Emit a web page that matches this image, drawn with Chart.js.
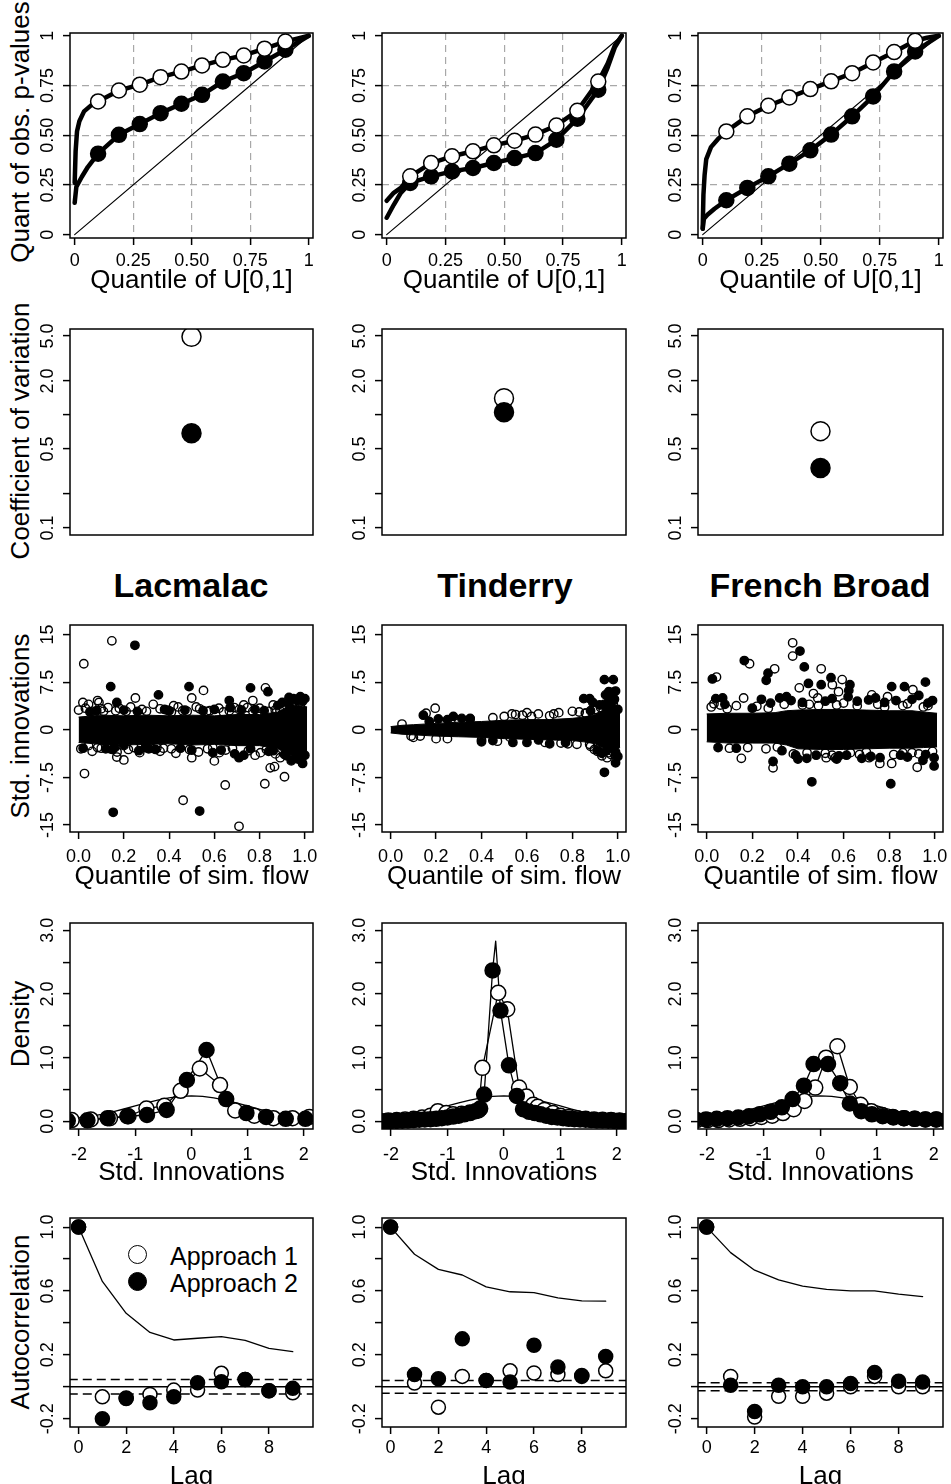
<!DOCTYPE html>
<html>
<head>
<meta charset="utf-8">
<script src="https://cdn.jsdelivr.net/npm/chart.js@4.4.1/dist/chart.umd.min.js"></script>
<style>
  html, body { margin: 0; padding: 0; background: #fff; overflow: hidden; }
  body { width: 951px; height: 1484px; position: relative; font-family: "Liberation Sans", Arial, Helvetica, sans-serif; color: #000; }
  canvas { position: absolute; }
  .site { position: absolute; top: 568px; font-size: 34px; font-weight: bold; line-height: 34px; transform: translateX(-50%); white-space: nowrap; }
  .ytitle { position: absolute; left: 19.5px; font-size: 26px; line-height: 26px; white-space: nowrap; transform: translate(-50%, -50%) rotate(-90deg); }
  .key { position: absolute; left: 170px; font-size: 25px; line-height: 25px; white-space: nowrap; }
  .dot { position: absolute; left: 128px; width: 17px; height: 17px; border: 1.5px solid #000; border-radius: 50%; }
</style>
</head>
<body>
<div class="ytitle" style="top:132px">Quant of obs. p-values</div>
<div class="ytitle" style="top:431px">Coefficient of variation</div>
<div class="ytitle" style="top:726px">Std. innovations</div>
<div class="ytitle" style="top:1024px">Density</div>
<div class="ytitle" style="top:1322px">Autocorrelation</div>
<div class="site" style="left:191px">Lacmalac</div>
<div class="site" style="left:505px">Tinderry</div>
<div class="site" style="left:820px">French Broad</div>
<div class="dot" style="top:1245px;background:#fff"></div>
<div class="key" style="top:1244px">Approach 1</div>
<div class="dot" style="top:1272px;background:#000"></div>
<div class="key" style="top:1271px">Approach 2</div>
<script>
const FONT = '"Liberation Sans", Arial, Helvetica, sans-serif';

// ---- row 1: quantiles of observed p-values vs U[0,1]
const qqX = [0.1, 0.189, 0.278, 0.367, 0.456, 0.544, 0.633, 0.722, 0.811, 0.9];
const qqTicks = [0, 0.25, 0.5, 0.75, 1];
const qqLabels = ['0', '0.25', '0.50', '0.75', '1'];
const qqGrid = [0.25, 0.5, 0.75];
const qqDiag = [[0, 0], [1, 1]];

const qqLacA1 = [0.67, 0.725, 0.754, 0.792, 0.82, 0.851, 0.879, 0.901, 0.935, 0.971];
const qqLacA2 = [0.407, 0.502, 0.556, 0.611, 0.658, 0.703, 0.77, 0.812, 0.871, 0.93];
const qqLacA1Head = [[0, 0.26], [0.004, 0.42], [0.01, 0.52], [0.02, 0.57], [0.04, 0.62], [0.07, 0.65]];
const qqLacA2Head = [[0, 0.16], [0.007, 0.24], [0.03, 0.29], [0.056, 0.34]];
const qqLacA1Tail = [[0.95, 0.985], [1, 1]];
const qqLacA2Tail = [[0.95, 0.965], [1, 1]];

const qqTinA1 = [0.293, 0.36, 0.394, 0.419, 0.449, 0.472, 0.503, 0.549, 0.623, 0.77];
const qqTinA2 = [0.26, 0.293, 0.318, 0.335, 0.36, 0.385, 0.41, 0.477, 0.583, 0.729];
const qqTinA1Head = [[0, 0.17], [0.03, 0.21], [0.06, 0.235]];
const qqTinA2Head = [[0, 0.085], [0.03, 0.15], [0.06, 0.21]];
const qqTinA1Tail = [[0.94, 0.86], [0.97, 0.95], [1, 1]];
const qqTinA2Tail = [[0.94, 0.84], [0.97, 0.94], [1, 1]];

const qqFreA1 = [0.519, 0.595, 0.648, 0.69, 0.732, 0.771, 0.812, 0.866, 0.918, 0.975];
const qqFreA2 = [0.173, 0.235, 0.293, 0.357, 0.424, 0.503, 0.595, 0.695, 0.821, 0.921];
const qqFreA1Head = [[0, 0.03], [0.003, 0.2], [0.008, 0.3], [0.015, 0.38], [0.035, 0.44], [0.064, 0.48]];
const qqFreA2Head = [[0, 0.03], [0.005, 0.08], [0.02, 0.1], [0.05, 0.13]];
const qqFreA1Tail = [[0.95, 0.99], [1, 1]];
const qqFreA2Tail = [[0.95, 0.96], [1, 1]];

// ---- row 2: coefficient of variation (Lacmalac, Tinderry, French Broad)
const cvX = 1;
const cvA1 = [4.93, 1.41, 0.72];
const cvA2 = [0.69, 1.06, 0.34];
const cvTicks = [0.1, 0.2, 0.5, 1, 2, 5];
const cvLabels = ['0.1', '', '0.5', '', '2.0', '5.0'];

// ---- row 3: std. innovations vs quantile of simulated flow
const scTicksX = [0, 0.2, 0.4, 0.6, 0.8, 1];
const scLabelsX = ['0.0', '0.2', '0.4', '0.6', '0.8', '1.0'];
const scTicksY = [-15, -7.5, 0, 7.5, 15];
const scLabelsY = ['-15', '-7.5', '0', '7.5', '15'];

const scLacBandX = [0, 0.1, 0.2, 0.3, 0.4, 0.5, 0.6, 0.7, 0.8, 0.88, 0.92, 0.96, 1.01];
const scLacBandUp = [2.0, 2.3, 2.2, 2.3, 2.2, 2.3, 2.2, 2.4, 2.4, 2.8, 3.6, 3.9, 3.6];
const scLacBandLo = [-2.0, -2.3, -2.4, -2.3, -2.2, -2.4, -2.3, -2.5, -2.5, -3.0, -3.7, -4.0, -3.7];
const scLacA1 = [[0.023, 10.4], [0.147, 14.0], [0.026, -6.9], [0.251, 5.0], [0.5, 5.0], [0.552, 6.2], [0.462, -11.1],
  [0.5, -4.4], [0.648, -8.7], [0.709, -15.2], [0.826, 6.6], [0.77, 4.6], [0.823, -8.5], [0.847, -6.0], [0.866, -5.8],
  [0.91, -7.4], [0.169, -4.3], [0.2, -4.75], [0.019, 4.3], [0.084, 4.6], [0.33, 4.0], [0.42, 3.8], [0.6, -4.9],
  [0.375, -2.9], [0.0, 3.1], [0.044, 4.0], [0.1, 3.3], [0.13, 3.5], [0.164, 3.0], [0.044, -2.5], [0.084, -2.8],
  [0.14, -3.0], [0.244, -2.8], [0.346, -2.8], [0.46, 3.0], [0.535, 3.3], [0.567, 2.9], [0.593, -2.8], [0.622, -3.6],
  [0.666, 3.0], [0.688, 3.5], [0.746, 3.5], [0.804, -3.6], [0.869, 3.1], [0.891, -4.4], [0.28, 3.2], [0.39, 3.1],
  [0.95, -3.3], [0.98, 3.9], [0.03, 3.4], [0.06, 2.9], [0.09, 4.3], [0.11, 2.9], [0.18, 3.4], [0.21, 2.9],
  [0.23, 3.6], [0.3, 2.9], [0.36, 3.3], [0.41, 2.8], [0.44, 3.6], [0.48, 2.9], [0.52, 3.6], [0.58, 3.0],
  [0.62, 3.4], [0.64, 2.8], [0.71, 3.2], [0.73, 3.9], [0.77, 2.9], [0.8, 3.4], [0.84, 2.9], [0.86, 3.9],
  [0.89, 3.0], [0.01, -3.0], [0.06, -3.4], [0.1, -2.9], [0.17, -3.5], [0.22, -3.1], [0.27, -3.6], [0.32, -2.9],
  [0.36, -3.4], [0.41, -3.0], [0.43, -3.7], [0.49, -3.1], [0.53, -3.5], [0.57, -3.0], [0.65, -3.2], [0.68, -2.9],
  [0.75, -3.3], [0.78, -4.0], [0.83, -3.1], [0.87, -3.8]];
const scLacA2 = [[0.249, 13.3], [0.142, 6.8], [0.169, 4.3], [0.353, 5.5], [0.488, 6.8], [0.76, 6.6], [0.837, 6.0],
  [0.153, -13.0], [0.535, -12.8], [0.666, 4.6], [0.709, -4.4], [0.266, -3.3], [0.295, -2.8], [0.593, -3.6],
  [0.15, -3.1], [0.2, -2.5], [0.05, 2.8], [0.12, -3.0], [0.31, -3.0], [0.4, 3.0], [0.45, -2.9], [0.55, 3.0],
  [0.72, 3.1], [0.78, 3.2], [0.86, -3.3], [0.9, 4.3], [0.92, -4.1], [0.93, 5.1], [0.95, 4.9], [0.965, 4.6],
  [0.97, -4.6], [0.985, -4.8], [0.99, 4.5], [1.0, -4.0], [0.69, -3.8], [0.73, -4.0], [0.88, 3.8], [0.02, -2.9],
  [0.08, 3.0], [0.16, -2.8], [0.2, 3.1], [0.26, 2.9], [0.34, -3.1], [0.38, 3.2], [0.47, 3.1], [0.5, -3.2],
  [0.6, 3.2], [0.63, -3.2], [0.67, 3.5], [0.76, -3.0], [0.82, 3.0], [0.84, -3.4], [0.91, -3.9], [0.94, -4.9],
  [0.96, -4.2], [0.98, 5.2], [1.0, 4.9], [0.93, 4.0], [0.99, -5.3]];

const scTinBandX = [0, 0.05, 0.1, 0.2, 0.3, 0.4, 0.5, 0.6, 0.7, 0.8, 0.85, 0.9, 0.93, 0.96, 0.99, 1.01];
const scTinBandUp = [0.5, 0.7, 0.8, 1.0, 1.2, 1.3, 1.5, 1.6, 1.6, 1.8, 2.0, 2.4, 3.0, 3.7, 3.7, 3.2];
const scTinBandLo = [-0.5, -0.7, -0.8, -1.0, -1.1, -1.2, -1.4, -1.5, -1.6, -1.7, -1.9, -2.2, -2.8, -3.1, -3.1, -2.8];
const scTinA1 = [[0.196, 3.4], [0.156, 2.6], [0.534, 2.5], [0.6, 2.7], [0.718, 2.5], [0.8, 2.9], [0.857, 2.6],
  [0.924, 3.5], [0.93, -4.1], [0.897, -3.1], [0.876, -2.3], [0.526, -1.2], [0.13, -1.0], [0.98, 4.6], [0.953, -4.4],
  [0.1, -1.2], [0.2, -1.4], [0.45, 1.9], [0.5, 2.1], [0.58, 2.3], [0.62, 2.1], [0.7, 2.2], [0.75, -2.1],
  [0.82, -2.3], [0.86, 2.6], [0.9, 3.2], [0.96, -3.6], [0.98, 4.2], [0.3, 1.5], [0.4, -1.6], [0.05, 0.9],
  [0.09, -1.0], [0.25, -1.4], [0.35, 1.7], [0.47, -1.8], [0.55, 2.4], [0.65, 2.5], [0.68, -2.0], [0.74, 2.7],
  [0.78, -2.2], [0.83, 2.8], [0.88, -2.6], [0.91, -3.4], [0.94, 3.8], [0.97, -3.9]];
const scTinA2 = [[0.144, 2.3], [0.21, 1.7], [0.276, 2.1], [0.313, 1.8], [0.538, -2.0], [0.651, -1.6], [0.85, 4.9],
  [0.876, 4.9], [0.941, 7.9], [0.98, 7.9], [0.946, 5.5], [0.982, 5.9], [0.99, -3.9], [0.99, -5.2], [0.941, -6.7],
  [0.953, 3.3], [0.968, -2.3], [0.17, 1.3], [0.25, 1.6], [0.35, 1.8], [0.4, -1.9], [0.45, -1.7], [0.6, -2.0],
  [0.7, -2.2], [0.77, -2.0], [0.88, 3.0], [0.91, -3.2], [0.94, 4.0], [0.97, 3.8], [0.99, -3.5], [1.0, 3.2],
  [0.97, 5.9], [0.96, 4.5], [0.92, 3.9], [0.89, 4.3], [0.93, -3.7], [0.95, -3.3], [0.985, 4.8], [1.0, -4.2],
  [0.96, 6.0], [0.99, 6.1]];

const scFreBandX = [0, 0.1, 0.2, 0.3, 0.35, 0.4, 0.5, 0.6, 0.7, 0.8, 0.9, 0.95, 1.01];
const scFreBandUp = [2.5, 2.6, 2.6, 2.7, 3.0, 3.1, 3.2, 3.2, 3.1, 3.0, 3.0, 2.8, 2.6];
const scFreBandLo = [-1.9, -2.1, -2.1, -2.1, -2.4, -3.0, -3.1, -3.1, -3.0, -2.9, -2.9, -2.8, -2.7];
const scFreA1 = [[0.043, 8.3], [0.188, 10.4], [0.298, 9.6], [0.377, 13.7], [0.377, 11.6], [0.502, 9.6], [0.406, 6.6],
  [0.468, 5.7], [0.487, 5.0], [0.551, 7.1], [0.594, 7.9], [0.578, 6.0], [0.162, 5.0], [0.032, 4.1], [0.152, -4.5],
  [0.291, -6.0], [0.524, -4.4], [0.564, -4.4], [0.712, -4.4], [0.759, -5.3], [0.811, -5.3], [0.86, -3.6],
  [0.923, -5.9], [0.793, 5.2], [0.904, 6.3], [0.724, 5.5], [0.02, 3.6], [0.06, 3.9], [0.1, -2.9], [0.22, 3.7],
  [0.26, -3.0], [0.34, 4.0], [0.38, -3.8], [0.45, 4.0], [0.55, -4.0], [0.6, 4.2], [0.67, -3.9], [0.75, 4.0],
  [0.82, -3.9], [0.88, 4.1], [0.93, -3.8], [0.97, 3.8], [0.09, 3.3], [0.13, 3.8], [0.18, -2.8], [0.27, 3.4],
  [0.31, -2.7], [0.42, 3.9], [0.44, -3.6], [0.49, 3.8], [0.52, -3.7], [0.57, 3.9], [0.63, -3.6], [0.66, 3.8],
  [0.7, -3.5], [0.78, 3.6], [0.86, 3.8], [0.9, -3.6], [0.95, 3.6], [0.99, -3.4]];
const scFreA2 = [[0.025, 8.0], [0.165, 10.9], [0.269, 8.9], [0.261, 7.8], [0.409, 12.4], [0.428, 9.9], [0.446, 7.3],
  [0.502, 7.1], [0.545, 8.2], [0.628, 7.1], [0.623, 6.2], [0.811, 6.8], [0.867, 6.8], [0.959, 7.5], [0.461, -8.2],
  [0.807, -8.5], [0.291, -5.0], [0.39, -4.0], [0.439, -4.5], [0.613, -4.0], [0.948, -4.8], [0.997, -5.7],
  [0.997, -4.4], [0.35, 5.2], [0.04, 4.9], [0.05, -2.8], [0.08, 4.0], [0.13, -2.9], [0.2, 3.4], [0.28, 4.2],
  [0.33, -3.3], [0.42, 4.3], [0.48, -4.0], [0.52, 4.5], [0.58, -4.1], [0.66, 4.5], [0.72, -4.2], [0.78, 4.3],
  [0.85, -4.0], [0.9, 4.8], [0.96, -3.9], [0.99, 4.6], [0.07, 5.0], [0.24, 4.8], [0.32, 5.0], [0.37, 4.6],
  [0.55, 4.9], [0.62, 5.2], [0.71, 4.7], [0.74, 5.0], [0.83, 4.6], [0.93, 5.4], [0.97, 4.2], [0.57, -4.6],
  [0.68, -4.5], [0.76, -4.4], [0.88, -4.3], [0.4, -4.6]];

// ---- row 4: density of std. innovations
const dnTicksX = [-2, -1, 0, 1, 2];
const dnLabelsX = ['-2', '-1', '0', '1', '2'];
const dnTicksY = [0, 0.5, 1, 1.5, 2, 2.5, 3];
const dnLabelsY = ['0.0', '', '1.0', '', '2.0', '', '3.0'];
const normX = [-2.4, -2.2, -2.0, -1.8, -1.6, -1.4, -1.2, -1.0, -0.8, -0.6, -0.4, -0.2, 0, 0.2, 0.4, 0.6, 0.8, 1.0, 1.2, 1.4, 1.6, 1.8, 2.0, 2.2, 2.4];
const normY = [0.022, 0.035, 0.054, 0.079, 0.111, 0.150, 0.194, 0.242, 0.290, 0.333, 0.368, 0.391, 0.399, 0.391, 0.368, 0.333, 0.290, 0.242, 0.194, 0.150, 0.111, 0.079, 0.054, 0.035, 0.022];

const dnLacA1 = [[-2.13, 0.02], [-1.79, 0.03], [-1.45, 0.05], [-1.12, 0.08], [-0.8, 0.2], [-0.48, 0.245], [-0.19, 0.48],
  [0.15, 0.83], [0.51, 0.57], [0.78, 0.17], [1.12, 0.09], [1.46, 0.05], [1.8, 0.05], [2.1, 0.07]];
const dnLacA2 = [[-2.2, 0.01], [-1.85, 0.016], [-1.49, 0.05], [-1.14, 0.08], [-0.79, 0.1], [-0.44, 0.18], [-0.08, 0.65],
  [0.27, 1.12], [0.62, 0.35], [0.98, 0.13], [1.33, 0.07], [1.68, 0.04], [2.03, 0.04]];
const dnLacA2Peak = [];

const dnTinA1 = [[-2.2, 0.01], [-2.05, 0.015], [-1.9, 0.02], [-1.75, 0.03], [-1.6, 0.04], [-1.45, 0.06], [-1.3, 0.09],
  [-1.17, 0.16], [-1.02, 0.13], [-0.9, 0.11], [-0.75, 0.12], [-0.6, 0.14], [-0.45, 0.17], [-0.38, 0.84], [-0.1, 2.02],
  [0.06, 1.76], [0.27, 0.53], [0.4, 0.39], [0.52, 0.26], [0.6, 0.23], [0.72, 0.18], [0.87, 0.13], [1.0, 0.09],
  [1.15, 0.07], [1.3, 0.05], [1.45, 0.04], [1.6, 0.03], [1.75, 0.025], [1.9, 0.02], [2.05, 0.015], [2.2, 0.01]];
const dnTinA2 = [[-2.2, 0.0], [-2.1, 0.0], [-2.0, 0.005], [-1.9, 0.008], [-1.8, 0.01], [-1.7, 0.015], [-1.6, 0.02],
  [-1.5, 0.025], [-1.4, 0.03], [-1.3, 0.035], [-1.2, 0.04], [-1.1, 0.05], [-1.0, 0.06], [-0.9, 0.075], [-0.8, 0.09],
  [-0.7, 0.11], [-0.6, 0.13], [-0.5, 0.16], [-0.42, 0.2], [-0.35, 0.42], [-0.2, 2.37], [-0.06, 1.74], [0.09, 0.88],
  [0.23, 0.4], [0.34, 0.19], [0.45, 0.15], [0.55, 0.13], [0.65, 0.11], [0.75, 0.09], [0.85, 0.07], [0.95, 0.06],
  [1.05, 0.05], [1.15, 0.04], [1.25, 0.035], [1.35, 0.03], [1.45, 0.025], [1.55, 0.02], [1.65, 0.015], [1.75, 0.012],
  [1.85, 0.01], [1.95, 0.008], [2.05, 0.005], [2.15, 0.0]];
const dnTinA2Peak = [[-0.145, 2.83]];

const dnFreA1 = [[-2.18, 0.02], [-1.99, 0.02], [-1.8, 0.02], [-1.61, 0.03], [-1.42, 0.04], [-1.23, 0.05], [-1.04, 0.07],
  [-0.85, 0.09], [-0.66, 0.13], [-0.47, 0.19], [-0.28, 0.32], [-0.09, 0.53], [0.1, 1.0], [0.3, 1.18], [0.52, 0.54],
  [0.71, 0.26], [0.9, 0.16], [1.09, 0.1], [1.28, 0.07], [1.47, 0.05], [1.66, 0.04], [1.85, 0.03], [2.04, 0.03], [2.23, 0.02]];
const dnFreA2 = [[-2.21, 0.03], [-2.02, 0.03], [-1.83, 0.04], [-1.64, 0.05], [-1.45, 0.06], [-1.26, 0.08], [-1.07, 0.11],
  [-0.88, 0.15], [-0.68, 0.22], [-0.49, 0.35], [-0.29, 0.56], [-0.12, 0.9], [0.135, 0.9], [0.35, 0.6], [0.52, 0.28],
  [0.72, 0.16], [0.91, 0.11], [1.1, 0.08], [1.29, 0.06], [1.48, 0.05], [1.67, 0.04], [1.86, 0.03], [2.05, 0.03], [2.24, 0.02]];
const dnFreA2Peak = [];

// ---- row 5: autocorrelation by lag
const acfLag = [0, 1, 2, 3, 4, 5, 6, 7, 8, 9];
const acfEdge = [-1, 11];
const acfTicksX = [0, 2, 4, 6, 8];
const acfLabelsX = ['0', '2', '4', '6', '8'];
const acfTicksY = [-0.2, 0, 0.2, 0.4, 0.6, 0.8, 1];
const acfLabelsY = ['-0.2', '', '0.2', '', '0.6', '', '1.0'];
const acfCi = [0.045, 0.04, 0.025];

const acfLacObs = [1.0, 0.66, 0.46, 0.34, 0.293, 0.304, 0.314, 0.29, 0.24, 0.22];
const acfLacA1 = [1.0, -0.063, -0.07, -0.048, -0.021, -0.021, 0.084, 0.046, -0.025, -0.038];
const acfLacA2 = [1.0, -0.2, -0.073, -0.1, -0.063, 0.025, 0.031, 0.046, -0.025, -0.01];

const acfTinObs = [1.0, 0.83, 0.735, 0.70, 0.626, 0.595, 0.589, 0.557, 0.538, 0.536];
const acfTinA1 = [1.0, 0.023, -0.128, 0.065, 0.04, 0.1, 0.086, 0.077, 0.071, 0.1];
const acfTinA2 = [1.0, 0.077, 0.05, 0.30, 0.04, 0.03, 0.26, 0.124, 0.065, 0.19];

const acfFreObs = [1.0, 0.84, 0.73, 0.67, 0.63, 0.61, 0.60, 0.60, 0.58, 0.565];
const acfFreA1 = [1.0, 0.065, -0.19, -0.06, -0.06, -0.04, 0.0, 0.065, 0.0, 0.0];
const acfFreA2 = [1.0, 0.01, -0.155, 0.01, 0.0, 0.0, 0.02, 0.09, 0.035, 0.03];

// ---- layout (plot boxes in page pixels)
const COLS = [{left: 70, right: 313}, {left: 382, right: 626}, {left: 698, right: 943}];
const ROWS = [
  {top: 33, bottom: 238, axisH: 58, xPad: 5},
  {top: 329, bottom: 535, axisH: 0, xPad: 0},
  {top: 625, bottom: 832, axisH: 60, xPad: 7},
  {top: 923, bottom: 1129, axisH: 59, xPad: 8.3},
  {top: 1218, bottom: 1427, axisH: 65, xPad: 3}
];
const TICK = 7;
const YLAB = 22;
const TICK_SIZE = 18;

Chart.register({
  id: 'plotBox',
  afterDatasetsDraw(chart) {
    const {ctx, chartArea: a} = chart;
    ctx.save();
    ctx.strokeStyle = '#000';
    ctx.lineWidth = 1.5;
    ctx.strokeRect(a.left, a.top, a.right - a.left, a.bottom - a.top);
    ctx.restore();
  }
});

const measureCtx = document.createElement('canvas').getContext('2d');
function yPad(labels) {
  measureCtx.font = TICK_SIZE + 'px ' + FONT;
  const w = Math.max(...labels.map(s => measureCtx.measureText(s).width));
  return YLAB - TICK - w / 2;
}

const xy = (xs, ys) => xs.map((x, i) => ({x, y: ys[i]}));
const pts = arr => arr.map(([x, y]) => ({x, y}));

function line(data, width, extra) {
  return Object.assign({
    data, showLine: true, borderColor: '#000', borderWidth: width, pointRadius: 0,
    fill: false, tension: 0, clip: 0, borderCapStyle: 'round', borderJoinStyle: 'round'
  }, extra || {});
}

function dots(data, r, fillColor, extra) {
  return Object.assign({
    data, showLine: false, pointRadius: r, pointBackgroundColor: fillColor,
    pointBorderColor: '#000', pointBorderWidth: 1.5, clip: 0
  }, extra || {});
}

function band(xs, up, lo) {
  return [
    {data: xy(xs, up), showLine: true, borderWidth: 1, borderColor: '#000', backgroundColor: '#000',
      pointRadius: 0, fill: '+1', tension: 0, clip: 0},
    {data: xy(xs, lo), showLine: true, borderWidth: 1, borderColor: '#000',
      pointRadius: 0, fill: false, tension: 0, clip: 0}
  ];
}

function makeAxis(isY, a, size, pad) {
  return {
    type: a.type || 'linear',
    position: isY ? 'left' : 'bottom',
    display: a.display !== false,
    bounds: 'data',
    min: a.min,
    max: a.max,
    afterBuildTicks: s => { s.ticks = a.ticks.map(v => ({value: v})); },
    afterFit: s => {
      if (isY) s.width = size; else s.height = size;
      s.paddingLeft = 0; s.paddingRight = 0; s.paddingTop = 0; s.paddingBottom = 0;
    },
    ticks: {
      autoSkip: false,
      color: '#000',
      font: {family: FONT, size: TICK_SIZE},
      padding: isY ? yPad(a.labels) : pad,
      minRotation: isY ? 90 : 0,
      maxRotation: isY ? 90 : 0,
      crossAlign: isY ? 'center' : 'near',
      callback: (v, i) => a.labels[i]
    },
    grid: {
      drawOnChartArea: !!a.grid,
      color: ctx => (a.grid && ctx.tick && a.grid.includes(ctx.tick.value)) ? '#a8a8a8' : 'rgba(0,0,0,0)',
      lineWidth: 1.2,
      drawTicks: true,
      tickLength: TICK,
      tickColor: '#000',
      tickWidth: 1.5
    },
    border: {display: false, dash: [7, 5]},
    title: a.title
      ? {display: true, text: a.title, color: '#000', font: {family: FONT, size: 26}, padding: 0}
      : {display: false}
  };
}

function panel(col, row, cfg) {
  const c = COLS[col];
  const r = ROWS[row];
  const noX = cfg.x.display === false;
  const left = c.left - 46;
  const top = r.top - 8;
  const width = c.right + 6 - left;
  const height = r.bottom + (noX ? 8 : r.axisH) - top;
  const canvas = document.createElement('canvas');
  canvas.width = width;
  canvas.height = height;
  canvas.style.left = left + 'px';
  canvas.style.top = top + 'px';
  canvas.style.width = width + 'px';
  canvas.style.height = height + 'px';
  document.body.appendChild(canvas);

  new Chart(canvas, {
    type: 'line',
    data: {datasets: cfg.datasets},
    options: {
      responsive: false,
      animation: false,
      events: [],
      layout: {autoPadding: false, padding: {top: 8, right: 6, left: 0, bottom: noX ? 8 : 0}},
      plugins: {legend: {display: false}, tooltip: {enabled: false}},
      scales: {
        x: makeAxis(false, cfg.x, r.axisH, r.xPad),
        y: makeAxis(true, cfg.y, c.left - left, 0)
      }
    }
  });
}

function qqPanel(col, a1, a2, a1Head, a2Head, a1Tail, a2Tail) {
  const a1Pts = xy(qqX, a1);
  const a2Pts = xy(qqX, a2);
  panel(col, 0, {
    x: {min: -0.02, max: 1.018, ticks: qqTicks, labels: qqLabels, grid: qqGrid, title: 'Quantile of U[0,1]'},
    y: {min: -0.017, max: 1.014, ticks: qqTicks, labels: qqLabels, grid: qqGrid},
    datasets: [
      dots(a1Pts, 7.5, '#fff'),
      dots(a2Pts, 7.5, '#000'),
      line([...pts(a1Head), ...a1Pts, ...pts(a1Tail)], 4.5),
      line([...pts(a2Head), ...a2Pts, ...pts(a2Tail)], 4.5),
      line(pts(qqDiag), 1.2)
    ]
  });
}

function cvPanel(col) {
  panel(col, 1, {
    x: {display: false, min: 0, max: 2, ticks: [], labels: []},
    y: {type: 'logarithmic', min: 0.0867, max: 5.77, ticks: cvTicks, labels: cvLabels},
    datasets: [
      dots([{x: cvX, y: cvA2[col]}], 9.5, '#000'),
      dots([{x: cvX, y: cvA1[col]}], 9.5, '#fff')
    ]
  });
}

function scatterPanel(col, a1, a2, bx, bu, bl) {
  panel(col, 2, {
    x: {min: -0.038, max: 1.036, ticks: scTicksX, labels: scLabelsX, title: 'Quantile of sim. flow'},
    y: {min: -16.1, max: 16.5, ticks: scTicksY, labels: scLabelsY},
    datasets: [
      dots(pts(a1), 4.2, 'rgba(0,0,0,0)', {pointBorderWidth: 1.4}),
      dots(pts(a2), 4.2, '#000', {pointBorderWidth: 1.4}),
      ...band(bx, bu, bl)
    ]
  });
}

function densityPanel(col, a1, a2, a2Peak) {
  const a2Line = [...a2, ...a2Peak].sort((p, q) => p[0] - q[0]);
  panel(col, 3, {
    x: {min: -2.16, max: 2.165, ticks: dnTicksX, labels: dnLabelsX, title: 'Std. Innovations'},
    y: {min: -0.12, max: 3.115, ticks: dnTicksY, labels: dnLabelsY},
    datasets: [
      dots(pts(a2), 7.5, '#000'),
      dots(pts(a1), 7.5, '#fff'),
      line(pts(a2Line), 1.3),
      line(pts(a1), 1.3),
      line(xy(normX, normY), 1.3)
    ]
  });
}

function acfPanel(col, obs, a1, a2) {
  const ci = acfCi[col];
  const dash = {borderDash: [9, 5], borderCapStyle: 'butt'};
  panel(col, 4, {
    x: {min: -0.36, max: 9.85, ticks: acfTicksX, labels: acfLabelsX, title: 'Lag'},
    y: {min: -0.252, max: 1.057, ticks: acfTicksY, labels: acfLabelsY},
    datasets: [
      dots(xy(acfLag, a2), 7, '#000'),
      dots(xy(acfLag, a1), 7, '#fff'),
      line(xy(acfLag, obs), 1.3),
      line(xy(acfEdge, [0, 0]), 1.5, {borderCapStyle: 'butt'}),
      line(xy(acfEdge, [ci, ci]), 1.5, dash),
      line(xy(acfEdge, [-ci, -ci]), 1.5, dash)
    ]
  });
}

qqPanel(0, qqLacA1, qqLacA2, qqLacA1Head, qqLacA2Head, qqLacA1Tail, qqLacA2Tail);
qqPanel(1, qqTinA1, qqTinA2, qqTinA1Head, qqTinA2Head, qqTinA1Tail, qqTinA2Tail);
qqPanel(2, qqFreA1, qqFreA2, qqFreA1Head, qqFreA2Head, qqFreA1Tail, qqFreA2Tail);

cvPanel(0);
cvPanel(1);
cvPanel(2);

scatterPanel(0, scLacA1, scLacA2, scLacBandX, scLacBandUp, scLacBandLo);
scatterPanel(1, scTinA1, scTinA2, scTinBandX, scTinBandUp, scTinBandLo);
scatterPanel(2, scFreA1, scFreA2, scFreBandX, scFreBandUp, scFreBandLo);

densityPanel(0, dnLacA1, dnLacA2, dnLacA2Peak);
densityPanel(1, dnTinA1, dnTinA2, dnTinA2Peak);
densityPanel(2, dnFreA1, dnFreA2, dnFreA2Peak);

acfPanel(0, acfLacObs, acfLacA1, acfLacA2);
acfPanel(1, acfTinObs, acfTinA1, acfTinA2);
acfPanel(2, acfFreObs, acfFreA1, acfFreA2);
</script>
</body>
</html>
